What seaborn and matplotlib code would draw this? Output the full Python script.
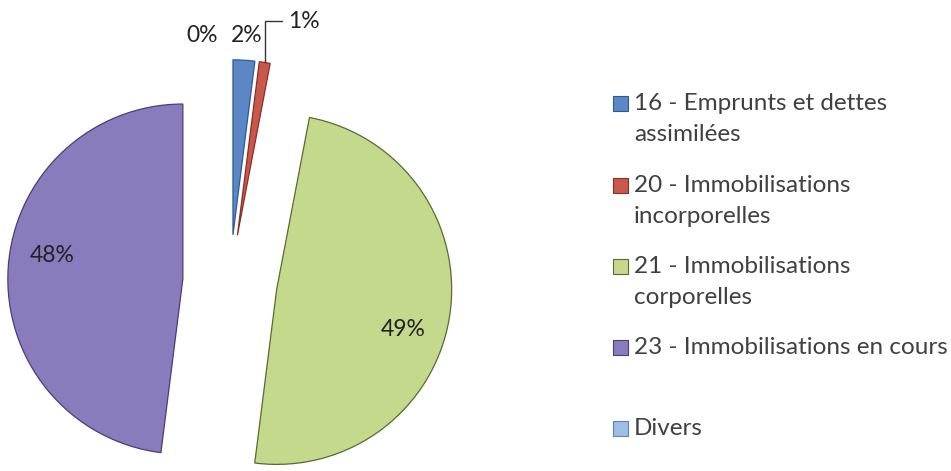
import matplotlib
matplotlib.use("Agg")
import matplotlib.pyplot as plt
import numpy as np
import seaborn as sns
from matplotlib.patches import Rectangle

# --- Data ---
CATEGORIES = [
    "16 - Emprunts et dettes\nassimilées",
    "20 - Immobilisations\nincorporelles",
    "21 - Immobilisations\ncorporelles",
    "23 - Immobilisations en cours",
    "Divers",
]
SHARES = [2, 1, 49, 48, 0]  # % of total
COLORS = ["#5b87c6", "#c9584c", "#c4d98c", "#8a7bbd", "#9dbfe6"]
EDGES = ["#2f5a94", "#8a2f27", "#5a6a30", "#4b3d78", "#5a85b8"]

# --- Layout (pixels) ---
W, H = 951, 471
CX, CY, R = 230, 282, 175          # pie centre / radius on the canvas
LABEL_PX = [(247, 35), (304, 21), (403, 330), (52, 255), (202, 35)]
LEG_X, LEG_BASE, LEG_LINE = 634, [110, 192, 273, 354, 435], 31


def px(x, y):
    """Canvas pixel -> pie data coordinates (radius 1)."""
    return (x - CX) / R, (CY - y) / R


sns.set_theme(style="white")
plt.rcParams["font.family"] = ["Lato", "DejaVu Sans"]

fig = plt.figure(figsize=(W / 100, H / 100), dpi=100)
ax = fig.add_axes([0, 0, 1, 1])

wedges, texts, autotexts = ax.pie(
    SHARES, explode=[0.27] * len(SHARES), startangle=90, counterclock=False,
    colors=COLORS, autopct="%1.0f%%", radius=1,
    wedgeprops=dict(linewidth=0.9),
    textprops=dict(fontsize=16.5, color="#222222"))
for w, ec, v in zip(wedges, EDGES, SHARES):
    w.set_edgecolor(ec)
    if v == 0:
        w.set_linewidth(0)

for t, pos in zip(autotexts, LABEL_PX):
    t.set_position(px(*pos))
    t.set_ha("center")
    t.set_va("center")

# 1% label sits outside with an elbow leader line
red = wedges[1]
mid = np.deg2rad((red.theta1 + red.theta2) / 2)
tip = (red.center[0] + red.r * np.cos(mid), red.center[1] + red.r * np.sin(mid))
autotexts[1].set_visible(False)
ax.annotate(autotexts[1].get_text(), xy=tip, xytext=px(*LABEL_PX[1]),
            ha="center", va="center", fontsize=16.5, color="#222222",
            arrowprops=dict(arrowstyle="-", color="#333333", lw=1,
                            shrinkA=2, shrinkB=0,
                            connectionstyle="angle,angleA=0,angleB=90,rad=0"))

ax.set_xlim(-CX / R, (W - CX) / R)
ax.set_ylim(-(H - CY) / R, CY / R)
ax.set_aspect("auto")
ax.axis("off")

# --- Legend ---
for cat, col, ec, base in zip(CATEGORIES, COLORS, EDGES, LEG_BASE):
    fig.add_artist(Rectangle((613 / W, 1 - (base + 1) / H), 15 / W, 15 / H,
                             transform=fig.transFigure, facecolor=col,
                             edgecolor=ec, linewidth=0.8))
    for k, line in enumerate(cat.split("\n")):
        fig.text(LEG_X / W, 1 - (base + k * LEG_LINE) / H, line,
                 ha="left", va="baseline", fontsize=17.5, color="#404040")

fig.savefig("out.png", dpi=100)
